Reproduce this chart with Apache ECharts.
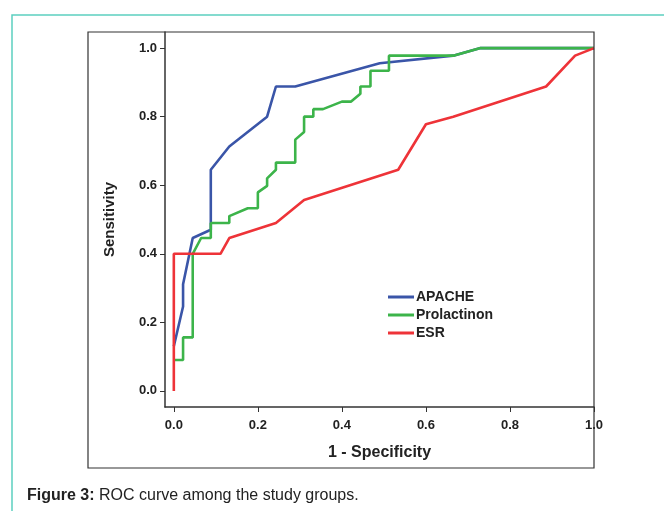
<!DOCTYPE html>
<html>
<head>
<meta charset="UTF-8">
<script src="https://cdn.jsdelivr.net/npm/echarts@6/dist/echarts.min.js"></script>
<style>
  html, body { margin: 0; padding: 0; background: #fff; }
  #main { width: 664px; height: 511px; }
</style>
</head>
<body>
<div id="main"></div>
<script>
  // [1 - specificity, sensitivity]
  const apache = [[0,0.13],[0.022,0.246],[0.022,0.311],[0.045,0.446],[0.088,0.47],[0.088,0.645],
    [0.132,0.713],[0.222,0.8],[0.243,0.888],[0.289,0.888],[0.49,0.956],[0.665,0.978],[0.73,1],[1,1]];
  const prolactinon = [[0,0.09],[0.022,0.09],[0.022,0.156],[0.045,0.156],[0.045,0.4],[0.065,0.446],
    [0.088,0.446],[0.088,0.49],[0.132,0.49],[0.132,0.51],[0.176,0.533],[0.2,0.533],[0.2,0.579],
    [0.222,0.598],[0.222,0.62],[0.243,0.645],[0.243,0.666],[0.289,0.666],[0.289,0.733],[0.31,0.755],
    [0.31,0.8],[0.332,0.8],[0.332,0.822],[0.355,0.822],[0.4,0.844],[0.422,0.844],[0.444,0.867],
    [0.444,0.888],[0.468,0.888],[0.468,0.934],[0.512,0.934],[0.512,0.978],[0.665,0.978],[0.73,1],[1,1]];
  const esr = [[0,0],[0,0.4],[0.111,0.4],[0.132,0.446],[0.243,0.49],[0.31,0.557],[0.534,0.645],
    [0.6,0.778],[0.665,0.8],[0.886,0.888],[0.955,0.978],[1,1]];
  const ticks = [0, 0.2, 0.4, 0.6, 0.8, 1.0];

  const chart = echarts.init(document.getElementById("main"));
  const lineSeries = (name, data, color) => ({
    name, type: "line", data, showSymbol: false, animation: false,
    lineStyle: { color, width: 2.6 }, itemStyle: { color }
  });
  const labelStyle = { fontFamily: "Liberation Sans", fontWeight: "bold", fontSize: 13, color: "#222" };

  chart.setOption({
    animation: false,
    grid: { left: 165, top: 32, right: 70, bottom: 104 },
    legend: {
      left: 383, top: 285, orient: "vertical", itemWidth: 26, itemHeight: 3, itemGap: 4,
      icon: "rect", textStyle: { fontFamily: "Liberation Sans", fontWeight: "bold", fontSize: 14, color: "#222", padding: [0, 0, 0, -3] },
      data: ["APACHE", "Prolactinon", "ESR"]
    },
    xAxis: {
      type: "value", min: -0.021, max: 1,
      splitLine: { show: false },
      axisLine: { onZero: false, lineStyle: { color: "#333", width: 1.5 } },
      axisTick: { customValues: ticks, length: 5, lineStyle: { color: "#333" } },
      axisLabel: { customValues: ticks, formatter: v => v.toFixed(1), margin: 12, ...labelStyle },
      name: "1 - Specificity", nameLocation: "middle", nameGap: 38,
      nameTextStyle: { fontFamily: "Liberation Sans", fontWeight: "bold", fontSize: 16, color: "#222" }
    },
    yAxis: {
      type: "value", min: -0.047, max: 1.047,
      splitLine: { show: false },
      axisLine: { onZero: false, lineStyle: { color: "#333", width: 1.5 } },
      axisTick: { customValues: ticks, length: 5, lineStyle: { color: "#333" } },
      axisLabel: { customValues: ticks, formatter: v => v.toFixed(1), margin: 8, ...labelStyle },
      name: "Sensitivity", nameLocation: "middle", nameGap: 48, nameRotate: 90,
      nameTextStyle: { fontFamily: "Liberation Sans", fontWeight: "bold", fontSize: 15, color: "#222" }
    },
    series: [
      lineSeries("APACHE", apache, "#3a55a8"),
      lineSeries("Prolactinon", prolactinon, "#3cb44a"),
      lineSeries("ESR", esr, "#ee3338")
    ],
    graphic: [
      { type: "polyline", shape: { points: [[12, 511], [12, 15], [664, 15]] },
        style: { stroke: "#5ccfc0", lineWidth: 1.5, fill: null } },
      { type: "rect", shape: { x: 88, y: 32, width: 506, height: 436 },
        style: { stroke: "#333", lineWidth: 1.2, fill: null }, z: 10 },
      { type: "text", left: 27, top: 488, style: {
        text: "{b|Figure 3:} ROC curve among the study groups.",
        fontFamily: "Liberation Sans Narrow, Liberation Sans", fontSize: 16, fill: "#222",
        rich: { b: { fontWeight: "bold", fontSize: 16, fontFamily: "Liberation Sans Narrow, Liberation Sans", fill: "#222" } }
      } }
    ]
  });
</script>
</body>
</html>
